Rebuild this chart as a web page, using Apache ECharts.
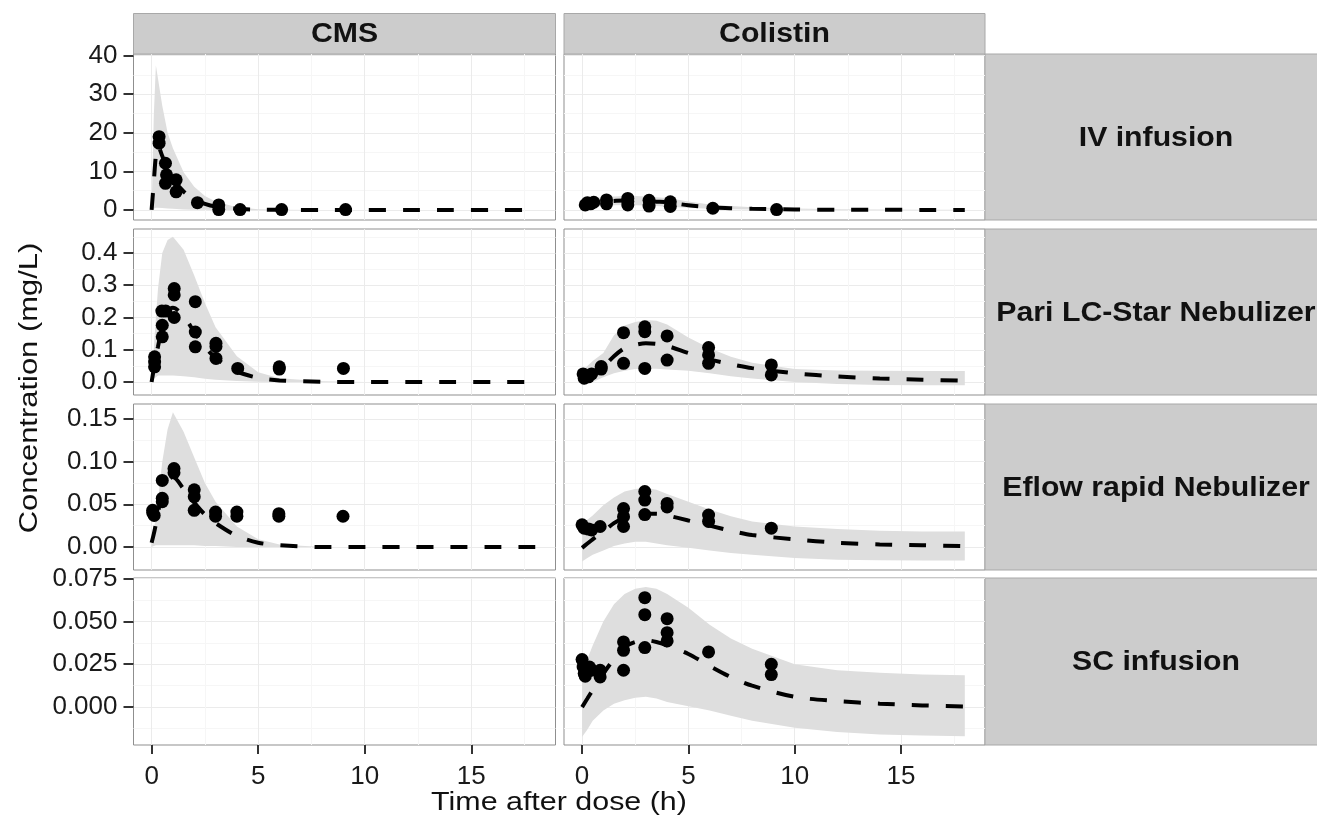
<!DOCTYPE html>
<html>
<head>
<meta charset="utf-8">
<script src="https://cdn.jsdelivr.net/npm/echarts@6/dist/echarts.min.js"></script>
<style>
  html, body { margin: 0; padding: 0; background: #fff; }
  #main { width: 1317px; height: 820px; }
</style>
</head>
<body>
<div id="main"></div>
<script>
// facets
const drugs = ['CMS', 'Colistin'];
const routes = ['IV infusion', 'Pari LC-Star Nebulizer', 'Eflow rapid Nebulizer', 'SC infusion'];

// axis ticks
const xTicks = [0, 5, 10, 15];
const xMinor = [2.5, 7.5, 12.5, 17.5];
const yTicks = [[0, 10, 20, 30, 40], [0, 0.1, 0.2, 0.3, 0.4], [0, 0.05, 0.1, 0.15], [0, 0.025, 0.05, 0.075]];
const yTickLabels = [['0', '10', '20', '30', '40'], ['0.0', '0.1', '0.2', '0.3', '0.4'],
  ['0.00', '0.05', '0.10', '0.15'], ['0.000', '0.025', '0.050', '0.075']];
const yMinor = [[5, 15, 25, 35], [0.05, 0.15, 0.25, 0.35, 0.45], [0.025, 0.075, 0.125], [-0.0125, 0.0125, 0.0375, 0.0625]];

// time grids of the prediction curves
const tCms = [0, 0.1, 0.2, 0.3, 0.5, 0.75, 1, 1.5, 2, 2.5, 3, 4, 5, 6, 8, 10, 12, 14, 16, 18];
const tCol = [0, 0.25, 0.5, 1, 1.5, 2, 2.5, 3, 3.5, 4, 5, 6, 7, 8, 10, 12, 14, 16, 18];

// CMS - IV infusion
const cmsIvHi = [0, 24, 37.5, 34, 27, 20, 16, 9.8, 6, 3.6, 2.2, 0.7, 0.2, 0.06, 0, 0, 0, 0, 0, 0];
const cmsIvLo = [0, 0.3, 0.6, 0.6, 0.5, 0.4, 0.3, 0.15, 0.08, 0.04, 0.02, 0, 0, 0, 0, 0, 0, 0, 0, 0];
const cmsIvMed = [0, 7, 14, 16.5, 14, 10.5, 8, 4.8, 2.8, 1.6, 0.9, 0.3, 0.1, 0.03, 0, 0, 0, 0, 0, 0];
const cmsIvObs = [[0.35, 19.0], [0.35, 17.3], [0.65, 12.1], [0.7, 9.1], [0.65, 6.9], [1.15, 7.8], [1.15, 4.7],
  [2.15, 1.9], [3.15, 1.3], [3.15, 0.1], [4.15, 0.1], [6.1, 0.1], [9.1, 0.1]];

// CMS - Pari LC-Star
const cmsPariHi = [0.03, 0.1, 0.2, 0.29, 0.4, 0.44, 0.45, 0.41, 0.33, 0.245, 0.17, 0.08, 0.03, 0.012, 0.002, 0, 0, 0, 0, 0];
const cmsPariLo = [0, 0.01, 0.015, 0.02, 0.02, 0.02, 0.02, 0.018, 0.015, 0.01, 0.007, 0.003, 0.001, 0, 0, 0, 0, 0, 0, 0];
const cmsPariMed = [0, 0.04, 0.08, 0.11, 0.17, 0.215, 0.23, 0.205, 0.155, 0.11, 0.075, 0.033, 0.013, 0.005, 0.001, 0, 0, 0, 0, 0];
const cmsPariObs = [[0.14, 0.078], [0.14, 0.062], [0.14, 0.047], [0.48, 0.22], [0.66, 0.22], [0.5, 0.176], [0.5, 0.14],
  [1.06, 0.29], [1.06, 0.27], [1.06, 0.2], [2.05, 0.249], [2.05, 0.155], [2.05, 0.109], [3.02, 0.12], [3.02, 0.11],
  [3.02, 0.073], [4.04, 0.042], [5.99, 0.047], [5.99, 0.04], [9.0, 0.042]];

// CMS - Eflow rapid
const cmsEflowHi = [0.005, 0.02, 0.035, 0.055, 0.1, 0.138, 0.158, 0.135, 0.105, 0.075, 0.053, 0.024, 0.009, 0.003, 0, 0, 0, 0, 0, 0];
const cmsEflowLo = [0, 0.001, 0.002, 0.002, 0.002, 0.002, 0.002, 0.002, 0.002, 0.001, 0.001, 0, 0, 0, 0, 0, 0, 0, 0, 0];
const cmsEflowMed = [0.005, 0.015, 0.027, 0.04, 0.064, 0.078, 0.082, 0.068, 0.052, 0.038, 0.028, 0.013, 0.005, 0.002, 0, 0, 0, 0, 0, 0];
const cmsEflowObs = [[0.05, 0.043], [0.05, 0.04], [0.12, 0.037], [0.5, 0.078], [0.5, 0.057], [0.5, 0.053],
  [1.05, 0.092], [1.05, 0.087], [2.0, 0.067], [2.0, 0.059], [2.0, 0.043], [3.0, 0.041], [3.0, 0.036],
  [4.0, 0.041], [4.0, 0.036], [5.97, 0.039], [5.97, 0.036], [8.98, 0.036]];

// Colistin - IV infusion
const colIvHi = [0.5, 2.6, 3.0, 3.3, 3.5, 3.6, 3.6, 3.5, 3.3, 3.1, 2.2, 1.4, 1.0, 0.7, 0.35, 0.18, 0.1, 0.06, 0.04];
const colIvLo = [0, 0.9, 1.1, 1.2, 1.25, 1.3, 1.25, 1.15, 1.0, 0.85, 0.55, 0.32, 0.2, 0.12, 0.05, 0.02, 0.01, 0, 0];
const colIvMed = [0.2, 1.6, 1.9, 2.2, 2.35, 2.45, 2.4, 2.3, 2.15, 2.0, 1.2, 0.7, 0.45, 0.3, 0.13, 0.06, 0.03, 0.02, 0.01];
const colIvObs = [[0.15, 1.3], [0.25, 1.9], [0.4, 1.6], [0.55, 2.0], [1.15, 2.6], [1.15, 1.6], [2.15, 3.0], [2.15, 2.2],
  [2.15, 1.3], [3.15, 2.5], [3.15, 1.0], [4.15, 2.1], [4.15, 0.9], [6.15, 0.45], [9.15, 0.1]];

// Colistin - Pari LC-Star
const colPariHi = [0.035, 0.05, 0.065, 0.09, 0.145, 0.175, 0.186, 0.192, 0.19, 0.178, 0.138, 0.105, 0.078, 0.06, 0.04, 0.036, 0.035, 0.034, 0.034];
const colPariLo = [-0.01, -0.005, 0, 0.015, 0.027, 0.035, 0.04, 0.042, 0.041, 0.039, 0.035, 0.027, 0.018, 0.011, 0, -0.006, -0.009, -0.01, -0.01];
const colPariMed = [0.005, 0.012, 0.022, 0.047, 0.08, 0.105, 0.115, 0.12, 0.118, 0.112, 0.09, 0.07, 0.055, 0.043, 0.027, 0.017, 0.011, 0.007, 0.004];
const colPariObs = [[0.05, 0.025], [0.1, 0.012], [0.3, 0.016], [0.45, 0.025], [0.9, 0.048], [0.9, 0.04], [1.95, 0.153],
  [1.95, 0.058], [2.95, 0.171], [2.95, 0.156], [2.95, 0.042], [4.0, 0.143], [4.0, 0.068], [5.95, 0.107], [5.95, 0.084],
  [5.95, 0.058], [8.9, 0.053], [8.9, 0.022]];

// Colistin - Eflow rapid
const colEflowHi = [0.028, 0.032, 0.037, 0.049, 0.058, 0.065, 0.068, 0.069, 0.067, 0.062, 0.053, 0.044, 0.036, 0.03, 0.024, 0.021, 0.019, 0.018, 0.018];
const colEflowLo = [-0.017, -0.013, -0.009, -0.004, 0.001, 0.004, 0.006, 0.006, 0.004, 0.002, -0.001, -0.004, -0.007, -0.009, -0.013, -0.015, -0.0155, -0.016, -0.016];
const colEflowMed = [-0.001, 0.004, 0.009, 0.018, 0.028, 0.034, 0.037, 0.039, 0.039, 0.037, 0.031, 0.025, 0.019, 0.014, 0.009, 0.005, 0.003, 0.002, 0.001];
const colEflowObs = [[0.0, 0.026], [0.1, 0.022], [0.3, 0.021], [0.45, 0.02], [0.85, 0.024], [1.95, 0.045], [1.95, 0.0355],
  [1.95, 0.024], [2.95, 0.065], [2.95, 0.055], [2.95, 0.038], [4.0, 0.051], [4.0, 0.047], [5.95, 0.0375], [5.95, 0.03],
  [8.9, 0.022]];

// Colistin - SC infusion
const colScHi = [0.022, 0.028, 0.036, 0.05, 0.06, 0.066, 0.069, 0.07, 0.069, 0.066, 0.058, 0.048, 0.04, 0.034, 0.025, 0.0215, 0.02, 0.019, 0.0186];
const colScLo = [-0.0175, -0.013, -0.008, -0.002, 0.002, 0.004, 0.0055, 0.006, 0.005, 0.003, 0.0005, -0.002, -0.005, -0.008, -0.012, -0.0145, -0.016, -0.0165, -0.017];
const colScMed = [0, 0.005, 0.01, 0.0195, 0.028, 0.035, 0.038, 0.039, 0.038, 0.036, 0.031, 0.024, 0.0175, 0.0125, 0.006, 0.0035, 0.002, 0.001, 0.0003];
const colScObs = [[0.0, 0.0277], [0.05, 0.0234], [0.1, 0.0196], [0.15, 0.018], [0.25, 0.0215], [0.35, 0.0234], [0.45, 0.0215],
  [0.85, 0.0215], [0.85, 0.0176], [1.95, 0.038], [1.95, 0.0331], [1.95, 0.0215], [2.95, 0.0638], [2.95, 0.0539],
  [2.95, 0.0347], [4.0, 0.0516], [4.0, 0.0434], [4.0, 0.0386], [5.95, 0.0322], [8.9, 0.025], [8.9, 0.019]];

// panel layout
const gridLeft = [133.5, 564];
const gridWidth = [422, 421];
const gridTop = [54, 229, 404, 578];
const gridHeight = [166, 166, 166, 167];
const xMin = -0.85, xMax = 18.95;
const yMin = [-2.6, -0.0403, -0.027, -0.0221];
const yMax = [40.41, 0.4744, 0.1676, 0.0753];

const panels = [
  { row: 0, col: 0, t: tCms, hi: cmsIvHi, lo: cmsIvLo, med: cmsIvMed, obs: cmsIvObs },
  { row: 1, col: 0, t: tCms, hi: cmsPariHi, lo: cmsPariLo, med: cmsPariMed, obs: cmsPariObs },
  { row: 2, col: 0, t: tCms, hi: cmsEflowHi, lo: cmsEflowLo, med: cmsEflowMed, obs: cmsEflowObs },
  { row: 0, col: 1, t: tCol, hi: colIvHi, lo: colIvLo, med: colIvMed, obs: colIvObs },
  { row: 1, col: 1, t: tCol, hi: colPariHi, lo: colPariLo, med: colPariMed, obs: colPariObs },
  { row: 2, col: 1, t: tCol, hi: colEflowHi, lo: colEflowLo, med: colEflowMed, obs: colEflowObs },
  { row: 3, col: 1, t: tCol, hi: colScHi, lo: colScLo, med: colScMed, obs: colScObs }
];

const FONT = '"Liberation Sans", Arial, sans-serif';
const grids = [], xAxes = [], yAxes = [], series = [], graphics = [];

for (let r = 0; r < 4; r++) {
  for (let c = 0; c < 2; c++) {
    const gi = r * 2 + c;
    grids.push({
      left: gridLeft[c], top: gridTop[r], width: gridWidth[c], height: gridHeight[r],
      show: true, backgroundColor: '#fff', borderColor: '#8f8f8f', borderWidth: 1
    });
    // main x axis + minor gridlines axis
    xAxes.push({
      gridIndex: gi, type: 'value', min: xMin, max: xMax, position: 'bottom',
      axisLine: { show: false, onZero: false },
      axisTick: { show: r === 3, customValues: xTicks, length: 9, lineStyle: { color: '#333', width: 2 } },
      axisLabel: { show: r === 3, customValues: xTicks, margin: 19, fontSize: 26, color: '#1a1a1a', fontFamily: FONT },
      splitLine: { show: true, lineStyle: { color: '#ebebeb', width: 1 } }
    });
    xAxes.push({
      gridIndex: gi, type: 'value', min: xMin, max: xMax,
      axisLine: { show: false, onZero: false }, axisLabel: { show: false },
      axisTick: { show: false, customValues: xMinor },
      splitLine: { show: true, lineStyle: { color: '#f6f6f6', width: 1 } }
    });
    const labels = yTickLabels[r], ticks = yTicks[r];
    yAxes.push({
      gridIndex: gi, type: 'value', min: yMin[r], max: yMax[r], position: 'left',
      axisLine: { show: false, onZero: false },
      axisTick: { show: c === 0, customValues: ticks, length: 10, lineStyle: { color: '#333', width: 2 } },
      axisLabel: {
        show: c === 0, customValues: ticks, margin: 16, fontSize: 26, color: '#1a1a1a', fontFamily: FONT,
        formatter: function (v) {
          let k = 0;
          ticks.forEach((tv, i) => { if (Math.abs(tv - v) < Math.abs(ticks[k] - v)) k = i; });
          return labels[k];
        }
      },
      splitLine: { show: true, lineStyle: { color: '#ebebeb', width: 1 } }
    });
    yAxes.push({
      gridIndex: gi, type: 'value', min: yMin[r], max: yMax[r],
      axisLine: { show: false, onZero: false }, axisLabel: { show: false },
      axisTick: { show: false, customValues: yMinor[r] },
      splitLine: { show: true, lineStyle: { color: '#f6f6f6', width: 1 } }
    });
  }
}

panels.forEach(function (p) {
  const gi = p.row * 2 + p.col;
  const ax = gi * 2;
  // prediction interval ribbon
  series.push({
    type: 'custom', xAxisIndex: ax, yAxisIndex: ax, silent: true, z: 1,
    data: p.t.map((t, i) => [t, p.lo[i], p.hi[i]]),
    encode: { x: 0, y: [1, 2] },
    renderItem: function (params, api) {
      if (params.dataIndex !== 0) return null;
      const up = p.t.map((t, i) => api.coord([t, p.hi[i]]));
      const dn = p.t.map((t, i) => api.coord([t, p.lo[i]])).reverse();
      return { type: 'polygon', shape: { points: up.concat(dn) }, style: { fill: '#dedede' } };
    }
  });
  // median prediction
  series.push({
    type: 'line', xAxisIndex: ax, yAxisIndex: ax, silent: true, z: 3,
    data: p.t.map((t, i) => [t, p.med[i]]),
    symbol: 'none', smooth: 0.3,
    lineStyle: { color: '#000', width: 4, type: [17, 17] }
  });
  // observations
  series.push({
    type: 'scatter', xAxisIndex: ax, yAxisIndex: ax, silent: true, z: 4,
    data: p.obs, symbolSize: 13, itemStyle: { color: '#000', opacity: 1 }
  });
});

// strips
drugs.forEach(function (d, c) {
  graphics.push({
    type: 'rect', shape: { x: gridLeft[c], y: 13.5, width: gridWidth[c], height: 40.5 },
    style: { fill: '#cccccc', stroke: '#a8a8a8', lineWidth: 1 }
  });
  graphics.push({
    type: 'text', x: gridLeft[c] + gridWidth[c] / 2, y: 34, scaleX: 1.08,
    style: { text: d, x: 0, y: 0, align: 'center', verticalAlign: 'middle', font: 'bold 28px ' + FONT, fill: '#111' }
  });
});
routes.forEach(function (name, r) {
  graphics.push({
    type: 'rect', shape: { x: 985, y: gridTop[r], width: 340, height: gridHeight[r] },
    style: { fill: '#cccccc', stroke: '#a8a8a8', lineWidth: 1 }
  });
  graphics.push({
    type: 'text', x: 1156, y: gridTop[r] + gridHeight[r] / 2 + 1, scaleX: 1.08,
    style: { text: name, x: 0, y: 0, align: 'center', verticalAlign: 'middle', font: 'bold 28px ' + FONT, fill: '#111' }
  });
});
// axis titles
graphics.push({
  type: 'text', x: 559, y: 803, scaleX: 1.17,
  style: { text: 'Time after dose (h)', x: 0, y: 0, align: 'center', verticalAlign: 'middle', font: '26px ' + FONT, fill: '#111' }
});
graphics.push({
  type: 'text', x: 30, y: 388, rotation: Math.PI / 2, scaleX: 1.19,
  style: { text: 'Concentration (mg/L)', x: 0, y: 0, align: 'center', verticalAlign: 'middle', font: '26px ' + FONT, fill: '#111' }
});

const myChart = echarts.init(document.getElementById('main'));
myChart.setOption({
  animation: false,
  backgroundColor: '#fff',
  grid: grids,
  xAxis: xAxes,
  yAxis: yAxes,
  series: series,
  graphic: graphics
});
</script>
</body>
</html>
